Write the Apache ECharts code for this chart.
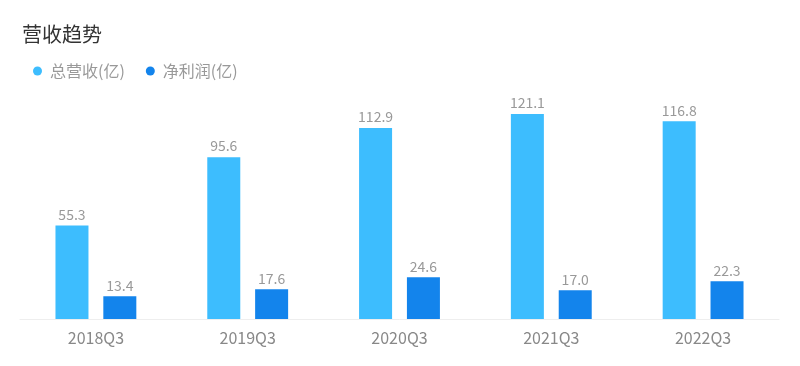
<!DOCTYPE html>
<html><head><meta charset="utf-8">
<script src="https://cdn.jsdelivr.net/npm/echarts@6/dist/echarts.min.js"></script>
<style>html,body{margin:0;padding:0;background:#fff}#c{width:800px;height:366px}</style>
</head><body><div id="c"></div>
<script>
const categories = ['2018Q3','2019Q3','2020Q3','2021Q3','2022Q3'];
const revenue = [55.3, 95.6, 112.9, 121.1, 116.8];
const profit = [13.4, 17.6, 24.6, 17.0, 22.3];
const seriesNames = ['总营收(亿)', '净利润(亿)'];
const chart = echarts.init(document.getElementById('c'));
const font = '"Microsoft YaHei","Noto Sans CJK SC",sans-serif';
chart.setOption({
  animation: false,
  title: {text: '营收趋势', left: 17, top: 19, textStyle: {fontSize: 20, fontWeight: 'normal', color: '#333', fontFamily: font}},
  legend: {left: 28, top: 58, icon: 'circle', itemWidth: 9, itemHeight: 9, itemGap: 21,
    textStyle: {fontSize: 16, color: '#999', fontFamily: font, padding: [0, 0, 0, 3]}},
  grid: {left: 20, right: 21, top: 82, bottom: 47, containLabel: false},
  xAxis: {type: 'category', data: categories,
    axisLine: {lineStyle: {color: '#eeeeee'}}, axisTick: {show: false},
    axisLabel: {fontSize: 16, color: '#888', margin: 11, fontFamily: font}},
  yAxis: {type: 'value', min: 0, max: 140, show: false, splitLine: {show: false}},
  series: [
    {name: seriesNames[0], type: 'bar', data: revenue, barWidth: 33, barGap: '45%',
     itemStyle: {color: '#3dbdfe'},
     label: {show: true, position: 'top', color: '#999', fontSize: 14, distance: 4, fontFamily: font, formatter: p => p.value.toFixed(1)}},
    {name: seriesNames[1], type: 'bar', data: profit, barWidth: 33,
     itemStyle: {color: '#1384ec'},
     label: {show: true, position: 'top', color: '#999', fontSize: 14, distance: 4, fontFamily: font, formatter: p => p.value.toFixed(1)}}
  ]
});
</script></body></html>
